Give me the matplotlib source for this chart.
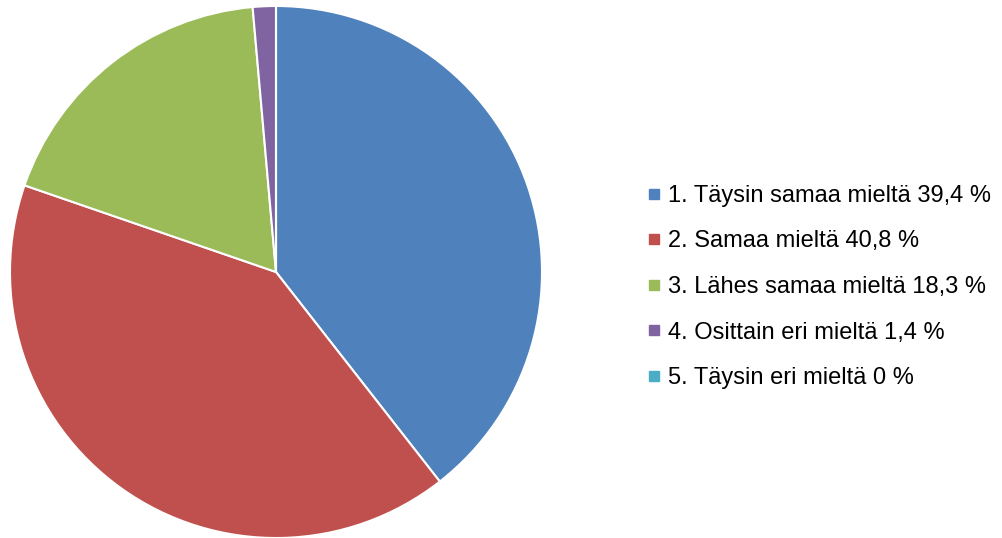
import matplotlib
matplotlib.use('Agg')
import matplotlib.pyplot as plt
from matplotlib.lines import Line2D

# Survey answers (%)
labels = ['1. Täysin samaa mieltä 39,4 %', '2. Samaa mieltä 40,8 %',
          '3. Lähes samaa mieltä 18,3 %', '4. Osittain eri mieltä 1,4 %',
          '5. Täysin eri mieltä 0 %']
values = [39.4, 40.8, 18.3, 1.4, 0.0]
colors = ['#4F81BD', '#C0504D', '#9BBB59', '#8064A2', '#4BACC6']

plt.rcParams['font.family'] = ['Liberation Sans', 'DejaVu Sans']

W, H = 1002, 538
fig = plt.figure(figsize=(W / 100, H / 100), dpi=100)

cx, cy, r = 276, 272, 266
ax = fig.add_axes([(cx - r) / W, (H - cy - r) / H, 2 * r / W, 2 * r / H])
ax.pie(values, colors=colors, startangle=90, counterclock=False,
       wedgeprops=dict(edgecolor='white', linewidth=1.5))
ax.set_xlim(-1.0, 1.0)
ax.set_ylim(-1.0, 1.0)
ax.set_aspect('equal')
ax.axis('off')

handles = [Line2D([], [], linestyle='none', marker='s', markersize=7,
                  markerfacecolor=c, markeredgecolor=c) for c in colors]
fig.legend(handles, labels, loc='center left', bbox_to_anchor=(648 / W, (H - 287) / H),
           frameon=False, fontsize=17, handlelength=0.55, handletextpad=0.3,
           labelspacing=1.0, borderpad=0, borderaxespad=0)

plt.savefig('out.png', dpi=100)
plt.close()
